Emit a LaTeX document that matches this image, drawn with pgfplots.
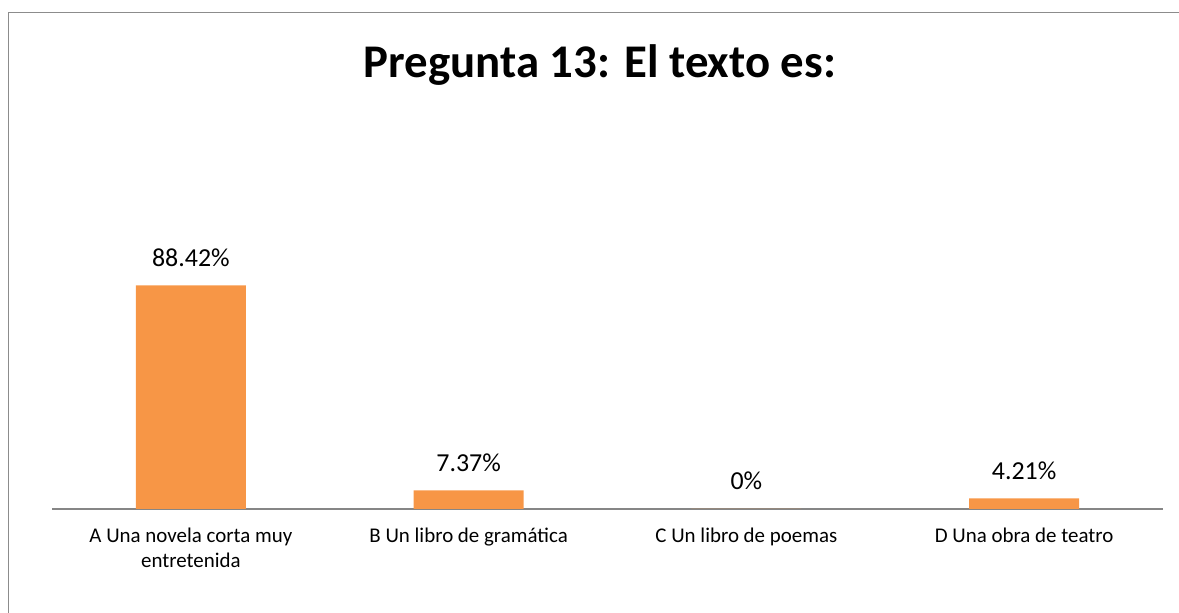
\documentclass[border=0pt]{standalone}
\usepackage{pgfplots}
\pgfplotsset{compat=1.18}
\usepackage{fontspec}
\setmainfont{Carlito}
\definecolor{barorange}{HTML}{F79646}
\definecolor{framegray}{HTML}{8C8C8C}
\definecolor{axisgray}{HTML}{868686}

\begin{document}
\begin{tikzpicture}
  \useasboundingbox (0bp,0bp) rectangle (1179bp,613bp);
  % chart frame (cut at right and bottom)
  \draw[framegray, line width=1.5bp] (8.5bp,-10bp) -- (8.5bp,600.5bp) -- (1200bp,600.5bp);
  % title
  \node[anchor=base, inner sep=0pt, font=\fontsize{47}{56}\selectfont\bfseries] at (600bp,535bp) {Pregunta 13: El texto es:};

  \begin{axis}[
      at={(52bp,104bp)}, anchor=south west,
      scale only axis,
      width=1111bp, height=253bp,
      ybar, bar width=110bp,
      xmin=-0.5, xmax=3.5,
      ymin=0, ymax=100,
      enlargelimits=false,
      axis x line*=bottom,
      hide y axis,
      axis line style={axisgray, line width=1.2bp},
      xtick=data,
      major tick length=0pt,
      xticklabels={{\begin{tabular}[t]{@{}c@{}}A Una novela corta muy\\entretenida\end{tabular}},
                   {B Un libro de gramática}, {C Un libro de poemas}, {D Una obra de teatro}},
      x tick label style={anchor=base, yshift=-34bp, inner sep=0pt,
                          font=\fontsize{21}{25}\selectfont},
      nodes near coords={\pgfmathprintnumber[fixed, precision=2]{\pgfplotspointmeta}\%},
      every node near coord/.append style={anchor=base, yshift=19bp, inner sep=0pt,
                          font=\fontsize{26}{30}\selectfont, black},
      /pgf/number format/assume math mode=true,
      clip=false,
    ]
    \addplot[fill=barorange, draw=none] coordinates {
      (0,88.42) (1,7.37) (2,0) (3,4.21)
    };
  \end{axis}
\end{tikzpicture}
\end{document}
